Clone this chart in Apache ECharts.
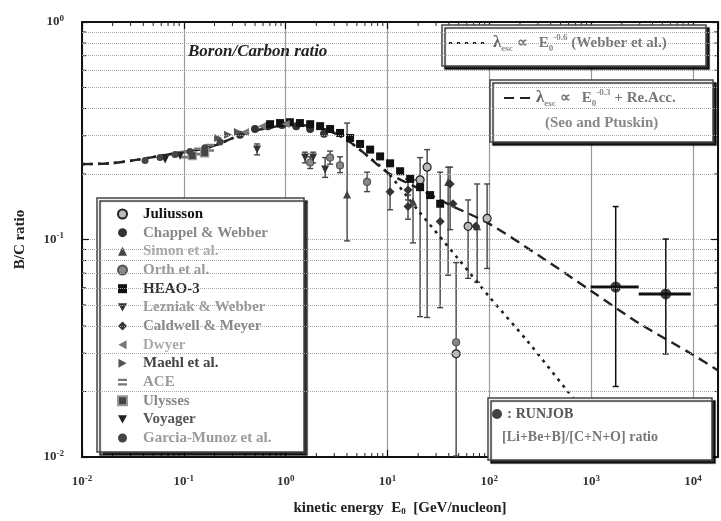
<!DOCTYPE html>
<html>
<head>
<meta charset="utf-8">
<script src="https://cdn.jsdelivr.net/npm/echarts@6/dist/echarts.min.js"></script>
<style>
html, body { margin: 0; padding: 0; background: #fff; }
#chart { width: 721px; height: 521px; }
</style>
</head>
<body>
<div id="chart"></div>
<script>
// B/C ratio vs kinetic energy E0 [GeV/nucleon]
// point = [E, ratio, errLow, errHigh]  (error part optional)
const juliusson = [[20.9, 0.188, 0.0442, 0.238], [24.5, 0.215, 0.0438, 0.259], [47.2, 0.0298, 0.0101, 0.0783], [61.9, 0.115, 0.0663, 0.152], [95.1, 0.125, 0.0736, 0.18]];
const chappel = [[0.356, 0.303], [0.5, 0.322], [0.671, 0.332], [0.922, 0.336], [1.27, 0.332], [1.74, 0.322], [2.38, 0.306]];
const simon = [[4.01, 0.161, 0.0985, 0.343], [17.8, 0.149, 0.0965, 0.188], [39.4, 0.184, 0.0685, 0.215], [75.9, 0.115, 0.0636, 0.18]];
const orth = [[1.74, 0.226, 0.212, 0.24], [2.73, 0.238, 0.222, 0.255], [3.42, 0.219, 0.203, 0.24], [6.3, 0.184, 0.166, 0.204], [47.2, 0.0337]];
const heao3 = [[0.703, 0.339], [0.881, 0.343], [1.1, 0.346], [1.38, 0.343], [1.74, 0.339], [2.18, 0.332], [2.73, 0.322], [3.42, 0.309], [4.29, 0.293], [5.38, 0.275], [6.75, 0.259], [8.46, 0.241], [10.6, 0.224], [13.3, 0.206], [16.7, 0.19], [20.9, 0.174], [26.2, 0.16], [32.9, 0.146]];
const lezniak = [[0.524, 0.259, 0.245, 0.275], [1.55, 0.238, 0.225, 0.252], [1.86, 0.238, 0.225, 0.252], [2.44, 0.21, 0.193, 0.238]];
const caldwell = [[10.6, 0.166, 0.137, 0.199], [15.9, 0.169, 0.152, 0.19], [15.9, 0.142, 0.124, 0.16], [32.9, 0.121, 0.0486, 0.204], [41.2, 0.18, 0.111, 0.215], [44, 0.146], [73.6, 0.115]];
const dwyer = [[0.399, 0.312], [0.586, 0.332], [1.0, 0.34]];
const maehl = [[0.217, 0.293], [0.272, 0.303], [0.34, 0.312]];
const ace = [[0.103, 0.246], [0.138, 0.254], [0.181, 0.264]];
const ulysses = [[0.121, 0.243], [0.16, 0.25]];
const voyager = [[0.0655, 0.233], [0.0918, 0.243]];
const garciaMunoz = [[0.0416, 0.231], [0.0583, 0.238], [0.082, 0.246], [0.115, 0.254], [0.161, 0.264], [0.227, 0.281]];
// RUNJOB [Li+Be+B]/[C+N+O]: [E, ratio, errLow, errHigh, eLow, eHigh]
const runjob = [[1742, 0.0604, 0.0211, 0.1417, 989, 2930], [5408, 0.0562, 0.0298, 0.1005, 2930, 9510]];

// model curves
const curveLowE = [[0.01, 0.222], [0.0188, 0.224], [0.0317, 0.231], [0.0466, 0.238], [0.0783, 0.248], [0.144, 0.259], [0.212, 0.273], [0.304, 0.293], [0.478, 0.315], [0.75, 0.329], [1.1, 0.336], [1.74, 0.332], [2.73, 0.315], [4.3, 0.28], [6.5, 0.24], [10, 0.203]];
const webberHighE = [[20, 0.136], [50, 0.081], [100, 0.0545], [238, 0.034], [590, 0.02], [900, 0.0157]];
const seoHighE = [[20, 0.172], [40, 0.145], [100, 0.118], [341, 0.0816], [1000, 0.058], [3000, 0.041], [10000, 0.0295], [17600, 0.025]];

const xMin = 0.01, xMax = 17600, yMin = 0.01, yMax = 1;
const xDecades = [-2, -1, 0, 1, 2, 3, 4];
const yDecades = [-2, -1];
const mults = [2, 3, 4, 5, 6, 7, 8, 9];

const xMinor = [];
xDecades.forEach(d => mults.forEach(m => { const v = m * Math.pow(10, d); if (v < xMax) xMinor.push(v); }));
const yMinor = [];
yDecades.forEach(d => mults.forEach(m => yMinor.push(m * Math.pow(10, d))));

const FONT = 'Liberation Serif';
const TRI_DOWN = 'path://M0,0L10,0L5,9Z';
const TRI_LEFT = 'path://M9,0L9,10L0,5Z';
const TRI_RIGHT = 'path://M0,0L0,10L9,5Z';
const EQ = 'path://M0,0H10V2.5H0Z M0,5H10V7.5H0Z';

function sup(v) {
  const e = Math.round(Math.log10(v));
  return '{b|10}{s|' + (e < 0 ? '-' + (-e) : e) + '}';
}
const tickRich = {
  b: { fontFamily: FONT, fontWeight: 'bold', fontSize: 13, color: '#333', lineHeight: 16 },
  s: { fontFamily: FONT, fontWeight: 'bold', fontSize: 9, color: '#333', verticalAlign: 'top', lineHeight: 9 }
};

function errBars(params, api) {
  const x = api.value(0), lo = api.value(1), hi = api.value(2);
  const a = api.coord([x, lo]), b = api.coord([x, hi]);
  const st = { stroke: '#444', lineWidth: 1.4 };
  return {
    type: 'group', children: [
      { type: 'line', shape: { x1: a[0], y1: a[1], x2: b[0], y2: b[1] }, style: st },
      { type: 'line', shape: { x1: b[0] - 3, y1: b[1], x2: b[0] + 3, y2: b[1] }, style: st },
      { type: 'line', shape: { x1: a[0] - 3, y1: a[1], x2: a[0] + 3, y2: a[1] }, style: st }
    ]
  };
}

function runjobBars(params, api) {
  const x = api.value(0), y = api.value(1);
  const lo = api.coord([x, api.value(2)]), hi = api.coord([x, api.value(3)]);
  const l = api.coord([api.value(4), y]), r = api.coord([api.value(5), y]);
  const st = { stroke: '#111', lineWidth: 1.5 };
  return {
    type: 'group', children: [
      { type: 'line', shape: { x1: lo[0], y1: lo[1], x2: hi[0], y2: hi[1] }, style: st },
      { type: 'line', shape: { x1: hi[0] - 3, y1: hi[1], x2: hi[0] + 3, y2: hi[1] }, style: st },
      { type: 'line', shape: { x1: lo[0] - 3, y1: lo[1], x2: lo[0] + 3, y2: lo[1] }, style: st },
      { type: 'line', shape: { x1: l[0], y1: l[1], x2: r[0], y2: r[1] }, style: { stroke: '#111', lineWidth: 3 } }
    ]
  };
}

function xTicks(params, api) {
  const v = api.value(0);
  const b = api.coord([v, yMin]), t = api.coord([v, yMax]);
  const st = { stroke: '#222', lineWidth: 1 };
  return {
    type: 'group', children: [
      { type: 'line', shape: { x1: b[0], y1: b[1], x2: b[0], y2: b[1] - 4 }, style: st },
      { type: 'line', shape: { x1: t[0], y1: t[1], x2: t[0], y2: t[1] + 4 }, style: st }
    ]
  };
}
function yTicks(params, api) {
  const v = api.value(1);
  const l = api.coord([xMin, v]), r = api.coord([xMax, v]);
  const st = { stroke: '#222', lineWidth: 1 };
  return {
    type: 'group', children: [
      { type: 'line', shape: { x1: l[0], y1: l[1], x2: l[0] + 4, y2: l[1] }, style: st },
      { type: 'line', shape: { x1: r[0], y1: r[1], x2: r[0] - 4, y2: r[1] }, style: st }
    ]
  };
}

const experiments = [
  { name: 'Juliusson', data: juliusson, symbol: 'circle', size: 8, color: '#bbb', border: '#222', text: '#111' },
  { name: 'Chappel & Webber', data: chappel, symbol: 'circle', size: 8, color: '#333', text: '#888' },
  { name: 'Simon et al.', data: simon, symbol: 'triangle', size: 8, color: '#444', text: '#aaa' },
  { name: 'Orth et al.', data: orth, symbol: 'circle', size: 7, color: '#888', border: '#555', text: '#999' },
  { name: 'HEAO-3', data: heao3, symbol: 'rect', size: 8, color: '#111', text: '#333' },
  { name: 'Lezniak & Webber', data: lezniak, symbol: TRI_DOWN, size: 8, color: '#333', text: '#999' },
  { name: 'Caldwell & Meyer', data: caldwell, symbol: 'diamond', size: 9, color: '#333', text: '#888' },
  { name: 'Dwyer', data: dwyer, symbol: TRI_LEFT, size: 8, color: '#777', text: '#aaa' },
  { name: 'Maehl et al.', data: maehl, symbol: TRI_RIGHT, size: 8, color: '#555', text: '#444' },
  { name: 'ACE', data: ace, symbol: EQ, size: 8, color: '#777', text: '#999' },
  { name: 'Ulysses', data: ulysses, symbol: 'rect', size: 8, color: '#444', border: '#999', text: '#888' },
  { name: 'Voyager', data: voyager, symbol: TRI_DOWN, size: 8, color: '#222', text: '#555' },
  { name: 'Garcia-Munoz et al.', data: garciaMunoz, symbol: 'circle', size: 7, color: '#444', text: '#999' }
];

const errData = [];
experiments.forEach(ex => ex.data.forEach(p => { if (p.length > 2) errData.push([p[0], p[2], p[3]]); }));

const series = [];
series.push({
  name: 'xminor', type: 'custom', renderItem: xTicks, silent: true, z: 3,
  encode: { x: 0, y: 1 }, data: xMinor.map(v => [v, yMin])
});
series.push({
  name: 'yminor', type: 'custom', renderItem: yTicks, silent: true, z: 3,
  encode: { x: 0, y: 1 }, data: yMinor.map(v => [xMin, v])
});
series.push({
  name: 'Webber', type: 'line', smooth: 0.3, symbol: 'none', z: 2,
  itemStyle: { color: '#222' },
  lineStyle: { color: '#222', width: 2.6, type: [3, 5] },
  data: curveLowE.concat(webberHighE)
});
series.push({
  name: 'Seo', type: 'line', smooth: 0.3, symbol: 'none', z: 2,
  itemStyle: { color: '#222' },
  lineStyle: { color: '#222', width: 2.4, type: [10, 6] },
  data: curveLowE.concat(seoHighE),
  markLine: {
    silent: true, symbol: 'none', label: { show: false },
    lineStyle: { type: 'dotted', color: '#aaa', width: 1 },
    data: yMinor.map(v => ({ yAxis: v }))
  }
});
series.push({
  name: 'errbars', type: 'custom', renderItem: errBars, silent: true, z: 2,
  encode: { x: 0, y: [1, 2] }, data: errData
});
experiments.forEach(ex => {
  series.push({
    name: ex.name, type: 'scatter', symbol: ex.symbol, symbolSize: ex.size, z: 3,
    itemStyle: { color: ex.color, borderColor: ex.border || ex.color, borderWidth: ex.border ? 1.2 : 0, opacity: 1 },
    data: ex.data.map(p => [p[0], p[1]])
  });
});
series.push({
  name: 'runjobbars', type: 'custom', renderItem: runjobBars, silent: true, z: 3,
  encode: { x: [0, 4, 5], y: [1, 2, 3] }, data: runjob
});
series.push({
  name: 'RUNJOB', type: 'scatter', symbol: 'circle', symbolSize: 11, z: 3,
  itemStyle: { color: '#111' },
  data: runjob.map(p => [p[0], p[1]])
});

const boxStyle = {
  backgroundColor: '#fff', borderColor: '#444', borderWidth: 1.5, borderRadius: 0,
  shadowColor: 'rgba(0,0,0,0.85)', shadowBlur: 1, shadowOffsetX: 3, shadowOffsetY: 3,
  selectedMode: false
};
const lgText = { fontFamily: FONT, fontWeight: 'bold', fontSize: 15, color: '#777', lineHeight: 20 };
const formulaRich = {
  t: { fontFamily: FONT, fontWeight: 'bold', fontSize: 15, color: '#777', lineHeight: 20 },
  l: { fontFamily: FONT, fontWeight: 'bold', fontSize: 17, color: '#666', lineHeight: 20 },
  sb: { fontFamily: FONT, fontWeight: 'bold', fontSize: 9, color: '#888', verticalAlign: 'bottom', lineHeight: 9 },
  sp: { fontFamily: FONT, fontWeight: 'bold', fontSize: 9, color: '#888', verticalAlign: 'top', lineHeight: 9 }
};

const chart = echarts.init(document.getElementById('chart'), null, { renderer: 'canvas' });
chart.setOption({
  animation: false,
  backgroundColor: '#fff',
  title: {
    text: 'Boron/Carbon ratio', left: 183, top: 38,
    textStyle: { fontFamily: FONT, fontStyle: 'italic', fontWeight: 'bold', fontSize: 17, color: '#222' }
  },
  grid: { left: 82, right: 3, top: 22, bottom: 56 },
  xAxis: [{
    type: 'log', logBase: 10, min: xMin, max: xMax,
    name: '{n|kinetic energy  E}{sb|0}{n|  [GeV/nucleon]}',
    nameLocation: 'middle', nameGap: 44,
    nameTextStyle: {
      rich: {
        n: { fontFamily: FONT, fontWeight: 'bold', fontSize: 15, color: '#222' },
        sb: { fontFamily: FONT, fontWeight: 'bold', fontSize: 9, color: '#222', verticalAlign: 'bottom' }
      }
    },
    axisLine: { lineStyle: { color: '#111', width: 2 } },
    axisTick: { inside: true, length: 7, lineStyle: { color: '#111', width: 1.2 } },
    axisLabel: { margin: 17, formatter: sup, rich: tickRich, showMaxLabel: false },
    splitLine: { show: true, lineStyle: { color: '#999', width: 1.2 } }
  }, {
    type: 'log', logBase: 10, min: xMin, max: xMax, position: 'top',
    axisLine: { lineStyle: { color: '#111', width: 2 } },
    axisTick: { inside: true, length: 7, lineStyle: { color: '#111', width: 1.2 } },
    axisLabel: { show: false }, splitLine: { show: false }
  }],
  yAxis: [{
    type: 'log', logBase: 10, min: yMin, max: yMax,
    name: 'B/C ratio', nameLocation: 'middle', nameGap: 54, nameRotate: 90,
    nameTextStyle: { fontFamily: FONT, fontWeight: 'bold', fontSize: 15, color: '#222' },
    axisLine: { lineStyle: { color: '#111', width: 2 } },
    axisTick: { inside: true, length: 7, lineStyle: { color: '#111', width: 1.2 } },
    axisLabel: { margin: 18, formatter: sup, rich: tickRich },
    splitLine: { show: true, lineStyle: { color: '#aaa', width: 1, type: 'dotted' } }
  }, {
    type: 'log', logBase: 10, min: yMin, max: yMax, position: 'right',
    axisLine: { lineStyle: { color: '#111', width: 2 } },
    axisTick: { inside: true, length: 7, lineStyle: { color: '#111', width: 1.2 } },
    axisLabel: { show: false }, splitLine: { show: false }
  }],
  legend: [
    Object.assign({}, boxStyle, {
      data: experiments.map(ex => ({ name: ex.name, icon: ex.symbol, textStyle: { color: ex.text } })),
      orient: 'vertical', left: 97, top: 198,
      padding: [8.5, 11, 6.5, 20], itemGap: 3.67,
      itemWidth: 9, itemHeight: 9,
      textStyle: { fontFamily: FONT, fontWeight: 'bold', fontSize: 15, lineHeight: 15, width: 150, padding: [0, 0, 0, 11] }
    }),
    Object.assign({}, boxStyle, {
      data: ['Webber'], left: 442, top: 25,
      padding: [8, 13, 13, 6], itemWidth: 39, itemHeight: 10,
      itemStyle: { opacity: 0 },
      formatter: () => '{l|λ}{sb|esc}{t| ∝   E}{sb|0}{sp|-0.6}{t| (Webber et al.)}',
      textStyle: Object.assign({}, lgText, { width: 200, rich: formulaRich })
    }),
    Object.assign({}, boxStyle, {
      data: ['Seo'], left: 490, top: 80,
      padding: [8, 12, 34, 13], itemWidth: 27, itemHeight: 10,
      itemStyle: { opacity: 0 },
      formatter: () => '{l|λ}{sb|esc}{t| ∝   E}{sb|0}{sp|-0.3}{t| + Re.Acc.}',
      textStyle: Object.assign({}, lgText, { width: 165, rich: formulaRich })
    }),
    Object.assign({}, boxStyle, {
      data: ['RUNJOB'], left: 488, top: 398,
      padding: [8, 15, 38, 4], itemWidth: 10, itemHeight: 10,
      formatter: ': {b|RUNJOB}',
      textStyle: Object.assign({}, lgText, {
        width: 190, lineHeight: 16, color: '#666',
        rich: { b: { fontFamily: FONT, fontWeight: 'bold', fontSize: 14, color: '#555', lineHeight: 16 } }
      })
    })
  ],
  graphic: [
    { type: 'text', left: 545, top: 116, z: 100,
      style: { text: '(Seo and Ptuskin)', fill: '#888', font: 'bold 15px "Liberation Serif"' } },
    { type: 'text', left: 502, top: 430, z: 100,
      style: { text: '[Li+Be+B]/[C+N+O] ratio', fill: '#777', font: 'bold 14px "Liberation Serif"' } }
  ],
  series: series
});
</script>
</body>
</html>
